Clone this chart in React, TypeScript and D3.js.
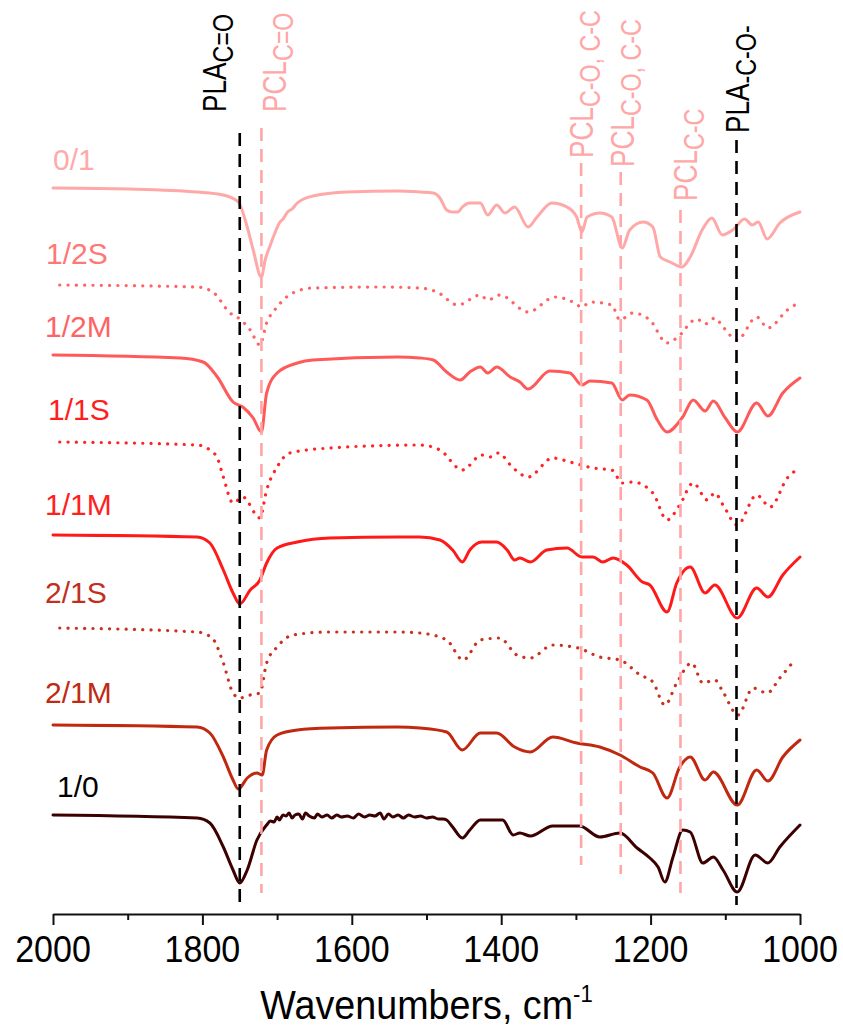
import React, { useEffect, useRef } from "react";
import * as d3 from "d3";

type Pt = [number, number]; // [wavenumber cm-1, transmittance (a.u., stacked)]

const xTicksMajor = [2000, 1800, 1600, 1400, 1200, 1000];
const xTicksMinor = [1900, 1700, 1500, 1300, 1100];

const names = ["0/1", "1/2S", "1/2M", "1/1S", "1/1M", "2/1S", "2/1M", "1/0"];
const lineColors = ["#ffa8a8", "#ff6464", "#ff5a5a", "#ff2424", "#ff1a1a", "#c8321e", "#c02810", "#3c0000"];
const labelColors = ["#ffaaaa", "#ff7878", "#ff6464", "#ff1e1e", "#ff2020", "#c0301e", "#c02a14", "#000000"];
const dotted = [false, true, false, true, false, true, false, false];

const s01: Pt[] = [
  [2000, 72.7], [1897, 72.6], [1807, 72.3], [1772, 72.0], [1752, 71.3], [1740, 68.8], [1732, 66.5],
  [1721, 63.8], [1716, 65.5], [1709, 67.0], [1703, 68.2], [1697, 69.2], [1692, 69.6], [1686, 70.3],
  [1680, 70.6], [1673, 71.2], [1652, 71.9], [1606, 72.3], [1539, 72.4], [1509, 72.3], [1491, 72.2], [1482, 71.7],
  [1473, 70.5], [1466, 70.3], [1458, 70.3], [1452, 70.8], [1442, 71.2], [1428, 71.2], [1418, 70.0],
  [1406, 71.0], [1395, 70.2], [1382, 70.8], [1364, 68.8], [1352, 69.8], [1332, 71.2], [1312, 70.8],
  [1299, 69.8], [1292, 68.3], [1285, 69.8], [1268, 70.2], [1252, 69.8], [1238, 66.7], [1228, 68.5],
  [1210, 69.3], [1197, 68.8], [1187, 65.8], [1174, 65.3], [1158, 64.8], [1147, 65.8], [1131, 68.5],
  [1118, 69.7], [1104, 68.0], [1090, 68.5], [1074, 69.6], [1064, 69.0], [1056, 69.3], [1044, 67.6],
  [1027, 69.2], [1000, 70.3],
];

const s12S: Pt[] = [
  [1991, 63.0], [1807, 62.8], [1786, 62.3], [1763, 60.2], [1750, 59.6], [1736, 58.5], [1723, 57.0],
  [1714, 59.2], [1700, 60.8], [1679, 62.2], [1652, 62.7], [1562, 62.8], [1509, 62.7], [1486, 62.3],
  [1458, 61.0], [1428, 62.0], [1418, 61.5], [1402, 62.0], [1364, 60.3], [1328, 61.8], [1304, 61.3],
  [1292, 60.8], [1281, 61.3], [1252, 61.0], [1241, 59.5], [1224, 60.2], [1201, 59.5], [1178, 57.2],
  [1165, 57.7], [1138, 59.6], [1127, 59.1], [1114, 59.7], [1103, 58.8], [1084, 57.5], [1058, 59.8],
  [1043, 58.7], [1017, 60.5], [1000, 61.3],
];

const s12M: Pt[] = [
  [2000, 56.0], [1830, 55.7], [1799, 55.3], [1780, 53.8], [1759, 51.3], [1746, 50.8], [1732, 49.7],
  [1721, 48.3], [1714, 52.2], [1700, 54.2], [1673, 55.2], [1652, 55.5], [1539, 55.8], [1509, 55.7],
  [1491, 55.5], [1473, 54.3], [1455, 53.5], [1442, 54.3], [1428, 54.8], [1418, 54.2], [1406, 54.8],
  [1388, 53.8], [1375, 53.3], [1364, 52.6], [1335, 54.4], [1308, 54.2], [1292, 53.0], [1281, 53.4],
  [1252, 53.2], [1238, 51.5], [1228, 52.0], [1205, 51.5], [1191, 49.5], [1178, 48.3], [1157, 49.8],
  [1143, 51.5], [1127, 50.4], [1116, 51.4], [1100, 49.7], [1084, 48.3], [1058, 51.2], [1043, 49.9],
  [1023, 52.2], [1000, 53.7],
];

const s11S: Pt[] = [
  [1991, 47.3], [1807, 47.0], [1790, 46.5], [1780, 45.7], [1772, 43.8], [1759, 41.2], [1746, 41.8],
  [1723, 39.7], [1714, 42.5], [1700, 44.8], [1683, 46.2], [1629, 46.7], [1509, 47.0], [1482, 46.5],
  [1452, 44.5], [1426, 46.0], [1415, 45.8], [1404, 46.2], [1384, 44.7], [1364, 43.8], [1331, 45.7],
  [1308, 45.3], [1277, 44.7], [1252, 44.5], [1238, 43.2], [1224, 43.3], [1197, 42.2], [1178, 39.5],
  [1161, 41.0], [1143, 43.2], [1124, 41.5], [1114, 42.2], [1103, 41.0], [1084, 39.0], [1058, 42.0],
  [1040, 40.8], [1017, 43.7], [1000, 44.7],
];

const s11M: Pt[] = [
  [2000, 38.0], [1807, 37.8], [1790, 37.2], [1772, 34.5], [1759, 32.2], [1750, 31.1], [1736, 32.5],
  [1723, 33.5], [1714, 35.2], [1700, 36.7], [1673, 37.3], [1629, 37.7], [1539, 37.8], [1509, 37.8],
  [1482, 37.5], [1465, 36.5], [1452, 35.3], [1442, 36.5], [1426, 37.3], [1406, 37.3], [1392, 36.5],
  [1382, 35.5], [1375, 35.7], [1361, 35.3], [1339, 36.5], [1312, 36.7], [1292, 35.8], [1277, 35.8],
  [1264, 35.3], [1250, 35.7], [1232, 35.0], [1211, 33.3], [1201, 33.0], [1178, 30.3], [1165, 33.2],
  [1147, 34.8], [1127, 32.2], [1114, 33.0], [1084, 29.7], [1058, 32.7], [1043, 31.8], [1023, 34.0],
  [1000, 35.8],
];

const s21S: Pt[] = [
  [1991, 28.7], [1807, 28.3], [1787, 27.7], [1772, 25.2], [1759, 22.2], [1750, 21.7], [1736, 22.0],
  [1723, 22.2], [1714, 25.2], [1700, 26.8], [1679, 28.0], [1629, 28.3], [1539, 28.3], [1509, 28.2],
  [1473, 27.5], [1451, 25.5], [1428, 27.5], [1402, 27.7], [1379, 26.0], [1361, 25.7], [1331, 27.0],
  [1297, 26.7], [1268, 25.8], [1241, 25.5], [1214, 24.0], [1197, 23.3], [1181, 21.0], [1165, 23.2],
  [1145, 25.2], [1130, 23.2], [1114, 23.5], [1103, 22.3], [1083, 20.0], [1063, 22.7], [1044, 22.2],
  [1027, 23.7], [1007, 25.5],
];

const s21M: Pt[] = [
  [2000, 19.0], [1807, 18.8], [1790, 18.2], [1772, 15.8], [1759, 13.5], [1752, 12.6], [1740, 13.7],
  [1727, 14.2], [1720, 14.0], [1714, 16.5], [1700, 18.0], [1673, 18.5], [1629, 18.7], [1539, 18.8],
  [1509, 18.7], [1473, 18.3], [1452, 16.5], [1428, 18.2], [1406, 18.2], [1382, 16.8], [1361, 16.3],
  [1331, 17.8], [1299, 17.2], [1268, 16.8], [1241, 16.0], [1214, 14.8], [1197, 14.2], [1178, 11.7],
  [1161, 14.8], [1147, 15.8], [1127, 13.5], [1116, 14.3], [1084, 11.0], [1058, 14.5], [1043, 13.4],
  [1023, 15.8], [1000, 17.5],
];

const s10: Pt[] = [
  [2000, 10.0], [1807, 9.7], [1790, 9.2], [1772, 6.8], [1759, 4.5], [1750, 3.2], [1740, 4.5],
  [1727, 7.5], [1714, 9.0], [1709, 9.4], [1704, 9.3], [1700, 9.8], [1697, 9.5], [1692, 10.0],
  [1688, 9.9], [1684, 10.2], [1680, 9.7], [1676, 10.0], [1671, 10.1], [1666, 9.6], [1662, 10.2],
  [1657, 9.9], [1650, 9.7], [1646, 10.1], [1640, 9.8], [1633, 10.0], [1627, 9.7], [1620, 10.0],
  [1614, 9.8], [1606, 9.9], [1598, 9.7], [1591, 10.1], [1583, 9.8], [1576, 10.0], [1569, 9.9],
  [1562, 10.2], [1557, 9.6], [1551, 10.1], [1545, 9.8], [1538, 10.0], [1531, 9.7], [1524, 10.0],
  [1516, 9.8], [1508, 9.9], [1500, 9.7], [1492, 9.8], [1484, 9.6],
  [1478, 9.6], [1473, 9.5], [1465, 8.8], [1452, 7.7], [1442, 8.5], [1428, 9.5], [1398, 9.5],
  [1384, 8.0], [1375, 8.2], [1361, 7.9], [1331, 8.9], [1295, 8.9], [1268, 7.8], [1241, 8.2],
  [1218, 6.7], [1201, 5.7], [1190, 4.8], [1181, 3.3], [1170, 5.8], [1157, 8.5], [1147, 8.3],
  [1130, 5.2], [1116, 5.8], [1103, 4.5], [1084, 2.3], [1060, 6.0], [1043, 5.2], [1027, 6.8],
  [1000, 9.0],
];

const spectra = [s01, s12S, s12M, s11S, s11M, s21S, s21M, s10];

// band assignments
const bandWn = [1750, 1721, 1293, 1240, 1160, 1085];
const bandMain = ["PLA", "PCL", "PCL", "PCL", "PCL", "PLA"];
const bandSub = ["C=O", "C=O", "C-O, C-C", "C-O, C-C", "C-C", "-C-O-"];

export default function App() {
  const ref = useRef<SVGSVGElement>(null);

  useEffect(() => {
    if (!ref.current) return;
    document.body.style.margin = "0";
    const svg = d3.select(ref.current);
    svg.selectAll("*").remove();
    const font = "'Liberation Sans', Arial, sans-serif";

    const x = d3.scaleLinear().domain([2000, 1000]).range([53, 800]);
    const y = d3.scaleLinear().domain([0, 80]).range([915, 115]);

    // spectra
    const line = d3.line<Pt>()
      .x(d => x(d[0]))
      .y(d => y(d[1]))
      .curve(d3.curveMonotoneX);
    spectra.forEach((s, i) => {
      svg.append("path")
        .datum(s)
        .attr("fill", "none")
        .attr("stroke", lineColors[i])
        .attr("stroke-width", dotted[i] ? 3.2 : 3)
        .attr("stroke-linecap", "round")
        .attr("stroke-linejoin", "round")
        .attr("stroke-dasharray", dotted[i] ? "0.1 8.2" : null)
        .attr("d", line);
    });

    // series labels
    const labelPos = [[53, 170], [46, 264], [45, 337], [48, 420], [45, 515], [45, 603], [45, 703], [57, 797]];
    names.forEach((n, i) => {
      svg.append("text")
        .attr("x", labelPos[i][0])
        .attr("y", labelPos[i][1])
        .attr("fill", labelColors[i])
        .attr("font-family", font)
        .attr("font-size", 30)
        .text(n);
    });

    // band marker lines + rotated labels
    const bandLayout = [
      { top: 133, bottom: 905, bx: 226, by: 112 },
      { top: 128, bottom: 893, bx: 286, by: 112 },
      { top: 163, bottom: 865, bx: 593, by: 158 },
      { top: 172, bottom: 874, bx: 634, by: 167 },
      { top: 210, bottom: 893, bx: 697, by: 201 },
      { top: 140, bottom: 905, bx: 749, by: 133 },
    ];
    bandWn.forEach((wn, i) => {
      const col = bandMain[i] === "PLA" ? "#000000" : "#ffa6a6";
      const L = bandLayout[i];
      svg.append("line")
        .attr("x1", x(wn)).attr("x2", x(wn))
        .attr("y1", L.top).attr("y2", L.bottom)
        .attr("stroke", col)
        .attr("stroke-width", 2.6)
        .attr("stroke-dasharray", "13 8");
      const t = svg.append("text")
        .attr("transform", `translate(${L.bx},${L.by}) rotate(-90) scale(0.97,1.22)`)
        .attr("fill", col)
        .attr("font-family", font)
        .attr("font-size", 27);
      t.append("tspan").text(bandMain[i]);
      t.append("tspan")
        .attr("font-size", 24)
        .attr("dy", 6)
        .text(bandSub[i]);
    });

    // x axis
    const axisY = 914;
    const g = svg.append("g").attr("transform", `translate(0,${axisY})`);
    g.call(d3.axisBottom(x).tickValues(xTicksMajor).tickSize(11).tickSizeOuter(0).tickFormat(() => ""));
    g.append("g").call(d3.axisBottom(x).tickValues(xTicksMinor).tickSize(6).tickSizeOuter(0).tickFormat(() => ""))
      .select(".domain").remove();
    g.selectAll(".domain, .tick line").attr("stroke", "#111").attr("stroke-width", 2);

    xTicksMajor.forEach(v => {
      svg.append("text")
        .attr("transform", `translate(${x(v)},${axisY + 48}) scale(0.92,1)`)
        .attr("text-anchor", "middle")
        .attr("font-family", font)
        .attr("font-size", 37)
        .attr("fill", "#000")
        .text(v);
    });

    const title = svg.append("text")
      .attr("transform", `translate(${(x(2000) + x(1000)) / 2},1019) scale(0.92,1)`)
      .attr("text-anchor", "middle")
      .attr("font-family", font)
      .attr("font-size", 41)
      .attr("fill", "#000");
    title.append("tspan").text("Wavenumbers, cm");
    title.append("tspan").attr("font-size", 24).attr("dy", -17).text("-1");
  }, []);

  return <svg ref={ref} width={843} height={1030} style={{ display: "block" }} />;
}
